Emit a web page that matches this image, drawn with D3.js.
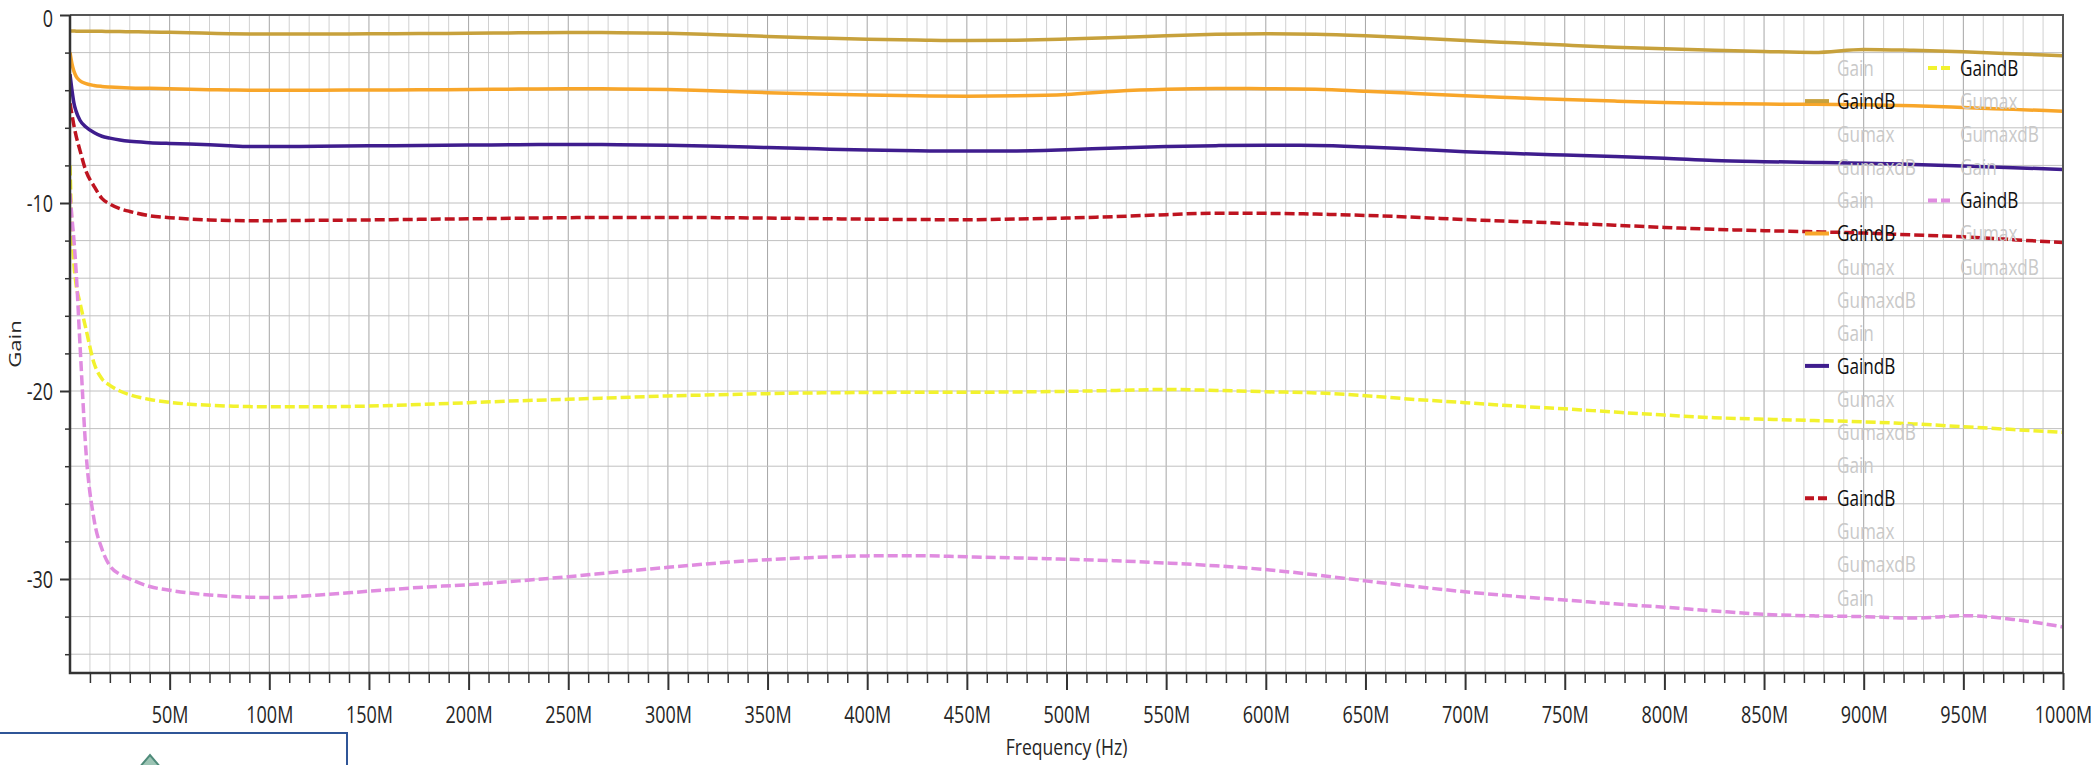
<!DOCTYPE html>
<html lang="en">
<head>
    <meta charset="UTF-8">
    <title>Gain vs Frequency</title>
    <script src="https://cdnjs.cloudflare.com/ajax/libs/d3/7.8.5/d3.min.js"></script>
    <style>
        body { margin: 0; background: #fff; font-family: 'Open Sans', 'Noto Sans', sans-serif; }
        svg { display: block; }
    </style>
</head>
<body>
<div id="chart"></div>

<script>

    // Frequency samples (MHz), shared by every trace
    const freqMHz = [0, 1, 2, 3, 5, 8, 12, 16, 20, 25, 30, 40, 50, 60, 70, 80, 90, 100,
        125, 150, 175, 200, 225, 250, 275, 300, 325, 350, 375, 400, 425, 450, 475, 500,
        525, 550, 575, 600, 625, 650, 675, 700, 725, 750, 775, 800, 825, 850, 875, 900,
        925, 950, 975, 1000];

    // GaindB traces (dB)
    const gainBrown = [-0.85, -0.85, -0.85, -0.86, -0.86, -0.86, -0.87, -0.87, -0.88, -0.88, -0.89, -0.9, -0.92, -0.94, -0.97, -1.0, -1.01, -1.01,
        -1.01, -1.0, -0.99, -0.97, -0.95, -0.93, -0.94, -0.97, -1.05, -1.14, -1.22, -1.29, -1.33, -1.36, -1.34, -1.28,
        -1.2, -1.1, -1.03, -1.0, -1.02, -1.1, -1.22, -1.36, -1.48, -1.6, -1.71, -1.8, -1.88, -1.94, -1.99, -1.83,
        -1.88, -1.96, -2.06, -2.17];

    const gainOrange = [-2.0, -2.6, -3.0, -3.25, -3.5, -3.65, -3.75, -3.8, -3.83, -3.86, -3.88, -3.9, -3.92, -3.95, -3.97, -3.99, -4.0, -4.0,
        -4.0, -3.99, -3.98, -3.96, -3.94, -3.92, -3.93, -3.96, -4.04, -4.13, -4.2, -4.26, -4.3, -4.32, -4.3, -4.23,
        -4.05, -3.95, -3.91, -3.92, -3.95, -4.05, -4.17, -4.3, -4.4, -4.5, -4.58, -4.65, -4.71, -4.74, -4.75, -4.77,
        -4.83, -4.92, -5.02, -5.12];

    const gainPurple = [-3.15, -4.0, -4.7, -5.1, -5.6, -5.96, -6.25, -6.45, -6.55, -6.65, -6.72, -6.79, -6.83, -6.86, -6.9, -6.96, -7.0, -7.0,
        -6.98, -6.96, -6.94, -6.92, -6.9, -6.89, -6.9, -6.93, -6.98, -7.05, -7.12, -7.18, -7.22, -7.24, -7.23, -7.17,
        -7.07, -7.0, -6.95, -6.93, -6.94, -7.02, -7.14, -7.27, -7.37, -7.45, -7.53, -7.62, -7.74, -7.8, -7.84, -7.88,
        -7.95, -8.03, -8.12, -8.22];

    const gainRed = [-4.7, -5.3, -5.9, -6.4, -7.2, -8.3, -9.1, -9.75, -10.05, -10.3, -10.45, -10.68, -10.78, -10.85, -10.9, -10.93, -10.94, -10.94,
        -10.92, -10.9, -10.87, -10.84, -10.81, -10.78, -10.77, -10.77, -10.78, -10.8, -10.83, -10.86, -10.88, -10.89, -10.85, -10.8,
        -10.72, -10.62, -10.54, -10.55, -10.59, -10.66, -10.76, -10.88, -10.98, -11.08, -11.18, -11.3, -11.4, -11.47, -11.53, -11.6,
        -11.7, -11.8, -11.95, -12.1];

    const gainYellow = [-8.0, -11.5, -13.3, -14.3, -15.3, -16.7, -18.5, -19.35, -19.7, -20.0, -20.2, -20.45, -20.6, -20.7, -20.76, -20.8, -20.83, -20.84,
        -20.84, -20.8, -20.72, -20.62, -20.52, -20.44, -20.35, -20.26, -20.2, -20.14, -20.1, -20.08, -20.07, -20.07, -20.05, -20.02,
        -19.97, -19.92, -19.97, -20.04, -20.1, -20.25, -20.45, -20.62, -20.8, -20.95, -21.12, -21.28, -21.42, -21.5, -21.57, -21.64,
        -21.75, -21.9, -22.05, -22.2];

    const gainPink = [-9.5, -10.8, -12.0, -13.5, -17.5, -23.2, -26.8, -28.4, -29.3, -29.75, -30.0, -30.4, -30.6, -30.75, -30.85, -30.92, -30.97, -30.98,
        -30.85, -30.65, -30.45, -30.3, -30.1, -29.88, -29.62, -29.38, -29.15, -28.97, -28.85, -28.77, -28.76, -28.82, -28.88, -28.95,
        -29.03, -29.15, -29.3, -29.5, -29.78, -30.1, -30.4, -30.68, -30.92, -31.12, -31.32, -31.5, -31.7, -31.88, -31.96, -32.0,
        -32.08, -31.95, -32.15, -32.55];

    const traces = [gainBrown, gainOrange, gainPurple, gainRed, gainYellow, gainPink];
    const colours = ['#c7a13c', '#f8a62a', '#3f1d8e', '#be1420', '#f2f22e', '#e08ce0'];
    const dashed = [false, false, false, true, true, true];

    // Every trace has these four legend entries, only GaindB is plotted
    const legendLabels = ['Gain', 'GaindB', 'Gumax', 'GumaxdB'];

    // Axis ticks
    const xMajorTicks = d3.range(50, 1001, 50);
    const xMinorTicks = d3.range(10, 1001, 10);
    const yMajorTicks = [0, -10, -20, -30];
    const yMinorTicks = d3.range(-34, 1, 2);

    const width = 2091;
    const height = 765;
    const plot = { left: 70, right: 2063, top: 15, bottom: 673 };

    const x = d3.scaleLinear().domain([0, 1000]).range([plot.left, plot.right]);
    const y = d3.scaleLinear().domain([-35, 0]).range([plot.bottom, plot.top]);

    const svg = d3.select('#chart')
        .append('svg')
        .attr('width', width)
        .attr('height', height);

    // grid
    const grid = svg.append('g');
    grid.selectAll('.vgrid')
        .data(xMinorTicks.filter(d => d < 1000))
        .enter().append('line')
        .attr('x1', d => x(d)).attr('x2', d => x(d))
        .attr('y1', plot.top).attr('y2', plot.bottom)
        .attr('stroke', d => d % 50 === 0 ? '#a6a6a6' : '#d0d0d0')
        .attr('stroke-width', 1);

    grid.selectAll('.hgrid')
        .data(yMinorTicks.filter(d => d < 0 && d > -35))
        .enter().append('line')
        .attr('x1', plot.left).attr('x2', plot.right)
        .attr('y1', d => y(d)).attr('y2', d => y(d))
        .attr('stroke', '#c0c0c0')
        .attr('stroke-width', 1);

    // traces
    svg.append('clipPath').attr('id', 'clip')
        .append('rect')
        .attr('x', plot.left).attr('y', plot.top)
        .attr('width', plot.right - plot.left)
        .attr('height', plot.bottom - plot.top);

    const line = d3.line()
        .x((d, i) => x(freqMHz[i]))
        .y(d => y(d))
        .curve(d3.curveMonotoneX);

    svg.append('g')
        .attr('clip-path', 'url(#clip)')
        .selectAll('path')
        .data(traces)
        .enter().append('path')
        .attr('d', d => line(d))
        .attr('fill', 'none')
        .attr('stroke', (d, i) => colours[i])
        .attr('stroke-width', 3.5)
        .attr('stroke-dasharray', (d, i) => dashed[i] ? '10,4' : null);

    // axes
    const styleText = (sel, size) => sel
        .attr('font-family', "'Open Sans', 'Noto Sans', sans-serif")
        .attr('font-size', size)
        .attr('fill', '#262626');

    const xAxis = svg.append('g')
        .attr('transform', `translate(0,${plot.bottom})`)
        .call(d3.axisBottom(x).tickValues(xMajorTicks).tickSize(17).tickSizeOuter(0)
            .tickFormat(d => d + 'M'));
    xAxis.select('.domain').remove();
    xAxis.selectAll('line').attr('stroke', '#333').attr('stroke-width', 2);
    styleText(xAxis.selectAll('text'), 24)
        .attr('y', 42).attr('dy', '0.35em')
        .attr('transform', 'scale(0.75,1)');

    const xMinor = svg.append('g')
        .attr('transform', `translate(0,${plot.bottom})`)
        .call(d3.axisBottom(x).tickValues(xMinorTicks.filter(d => d % 50 !== 0))
            .tickSize(10).tickSizeOuter(0).tickFormat(''));
    xMinor.select('.domain').remove();
    xMinor.selectAll('line').attr('stroke', '#333').attr('stroke-width', 1.5);

    const yAxis = svg.append('g')
        .attr('transform', `translate(${plot.left},0)`)
        .call(d3.axisLeft(y).tickValues(yMajorTicks).tickSize(10).tickSizeOuter(0)
            .tickFormat(d => String(d)));
    yAxis.select('.domain').remove();
    yAxis.selectAll('line').attr('stroke', '#333').attr('stroke-width', 2);
    styleText(yAxis.selectAll('text'), 24)
        .attr('x', 0)
        .attr('y', d => d === 0 ? 3 : 0)
        .attr('dy', '0.36em')
        .attr('transform', 'translate(-17,0) scale(0.75,1)');

    const yMinor = svg.append('g')
        .attr('transform', `translate(${plot.left},0)`)
        .call(d3.axisLeft(y).tickValues(yMinorTicks.filter(d => d % 10 !== 0))
            .tickSize(5).tickSizeOuter(0).tickFormat(''));
    yMinor.select('.domain').remove();
    yMinor.selectAll('line').attr('stroke', '#333').attr('stroke-width', 1.5);

    // frame
    svg.append('path')
        .attr('d', `M${plot.left},${plot.top}H${plot.right}V${plot.bottom}`)
        .attr('fill', 'none').attr('stroke', '#555').attr('stroke-width', 2);
    svg.append('path')
        .attr('d', `M${plot.left},${plot.top}V${plot.bottom}H${plot.right}`)
        .attr('fill', 'none').attr('stroke', '#333').attr('stroke-width', 2.5);

    // axis titles
    styleText(svg.append('text'), 22)
        .attr('text-anchor', 'middle')
        .attr('transform', `translate(${(plot.left + plot.right) / 2},747) scale(0.8,1)`)
        .attr('dy', '0.36em')
        .text('Frequency (Hz)');

    styleText(svg.append('text'), 17)
        .attr('text-anchor', 'middle')
        .attr('transform', `translate(15,${(plot.top + plot.bottom) / 2}) rotate(-90) scale(1.3,1)`)
        .attr('dy', '0.36em')
        .text('Gain');

    // legend: 24 entries flowing down two columns (17 + 7)
    const legendItems = [];
    traces.forEach((t, s) => {
        legendLabels.forEach(label => legendItems.push({ label: label, series: s }));
    });
    const perColumn = 17;
    const colX = [1805, 1928];
    const rowY = i => 68 + i * 33.1;

    const legend = svg.append('g')
        .selectAll('g')
        .data(legendItems)
        .enter().append('g')
        .attr('transform', (d, i) => {
            const col = i < perColumn ? 0 : 1;
            const row = i < perColumn ? i : i - perColumn;
            return `translate(${colX[col]},${rowY(row)})`;
        });

    legend.filter(d => d.label === 'GaindB')
        .append('line')
        .attr('x1', 0).attr('x2', 24)
        .attr('y1', 0).attr('y2', 0)
        .attr('stroke', d => colours[d.series])
        .attr('stroke-width', 4)
        .attr('stroke-dasharray', d => dashed[d.series] ? '9,4' : null);

    legend.append('text')
        .attr('transform', 'translate(32,0) scale(0.78,1)')
        .attr('dy', '0.36em')
        .attr('font-family', "'Open Sans', 'Noto Sans', sans-serif")
        .attr('font-size', 22)
        .attr('fill', d => d.label === 'GaindB' ? '#111' : '#c9c9c9')
        .text(d => d.label);

    // framed box at bottom left
    svg.append('rect')
        .attr('x', -4).attr('y', 733)
        .attr('width', 351).attr('height', 60)
        .attr('fill', 'none')
        .attr('stroke', '#2f5597')
        .attr('stroke-width', 2);
    svg.append('path')
        .attr('d', 'M139,768L150,755L161,768Z')
        .attr('fill', '#9cc4b4')
        .attr('stroke', '#4f8b7a')
        .attr('stroke-width', 2);

</script>
</body>
</html>
